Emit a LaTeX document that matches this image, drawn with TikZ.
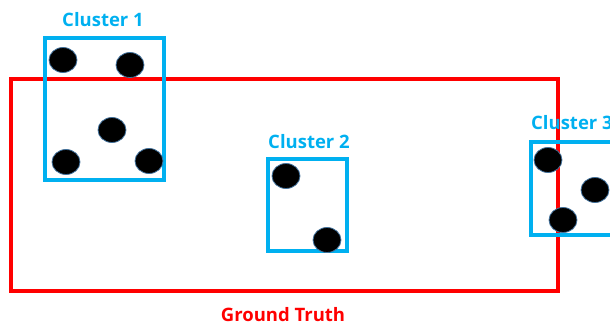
\documentclass[tikz,border=0pt]{standalone}
\usepackage{fontspec}
\setmainfont{Open Sans}
\definecolor{cblue}{HTML}{00B0F0}
\definecolor{cred}{HTML}{FF0000}
\definecolor{dotedge}{HTML}{41719C}
\begin{document}
\begin{tikzpicture}[x=1pt,y=-1pt,
  clbox/.style={draw=cblue,line width=4pt},
  gtbox/.style={draw=cred,line width=4pt},
  dot/.style={fill=black,draw=dotedge,line width=0.8pt},
  cllabel/.style={text=cblue,font=\bfseries\fontsize{18.5}{21}\selectfont,inner sep=0pt},
  gtlabel/.style={text=cred,font=\bfseries\fontsize{18.5}{21}\selectfont,inner sep=0pt}]
\useasboundingbox (0,0) rectangle (610,326);
\clip (0,0) rectangle (610,326);
\draw[gtbox] (11,79) rectangle (558,291);
\node[gtlabel] (gt) at (283,315) {Ground Truth};
% Cluster 1
\draw[clbox] (45,38) rectangle (164,180);
\node[cllabel] (l1) at (103,20) {Cluster 1};
\foreach \p in {(63,60),(130,65),(112,130),(66,162),(149,161)}
  \draw[dot] \p ellipse (14 and 12.5);
% Cluster 2
\draw[clbox] (268,159) rectangle (347,251);
\node[cllabel] (l2) at (309,142) {Cluster 2};
\foreach \p in {(286,176),(327,240)}
  \draw[dot] \p ellipse (14 and 12.5);
% Cluster 3
\draw[clbox] (531,142) rectangle (614,235);
\node[cllabel,anchor=west] (l3) at (531,123) {Cluster 3};
\foreach \p in {(548,160),(595,190),(563,220)}
  \draw[dot] \p ellipse (14 and 12.5);
\end{tikzpicture}
\end{document}
